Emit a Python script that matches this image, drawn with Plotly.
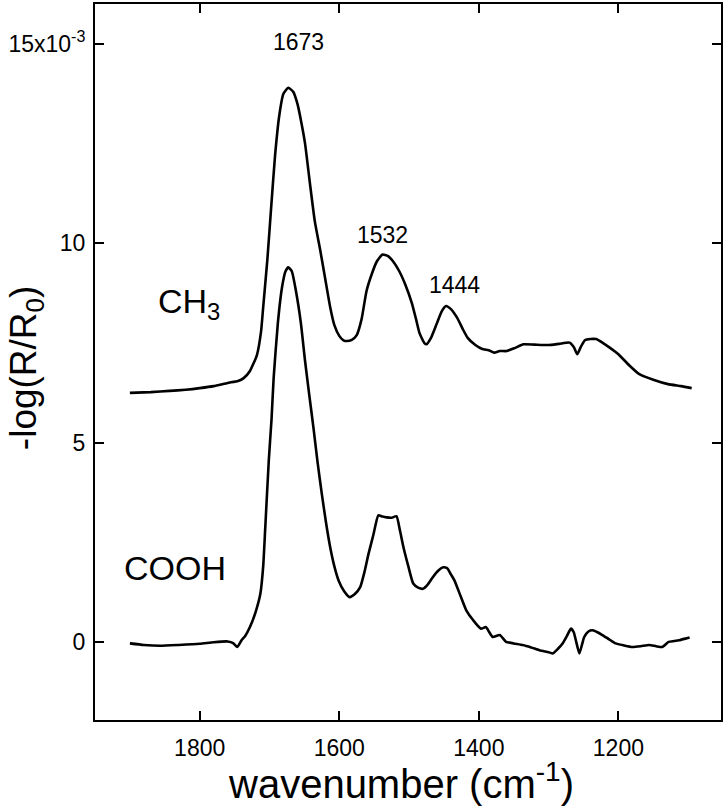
import plotly.graph_objects as go

# ---- data (absorbance in units of 1e-3) ----
ch3_wn = [1900, 1870, 1843, 1820, 1800, 1780, 1760, 1745, 1737, 1728, 1718, 1712, 1709, 1703,
          1698, 1692, 1686, 1680, 1673, 1666, 1660, 1654, 1649, 1642, 1635, 1627, 1620, 1613,
          1607, 1600, 1594, 1589, 1582, 1575, 1568, 1561, 1553, 1546, 1538, 1530, 1523, 1514, 1505,
          1496, 1490, 1485, 1478, 1475, 1468, 1460, 1453, 1447, 1440, 1431, 1423, 1416, 1405,
          1395, 1386, 1378, 1370, 1360, 1348, 1336, 1320, 1300, 1285, 1270, 1264, 1259, 1254,
          1248, 1240, 1232, 1222, 1212, 1200, 1185, 1170, 1150, 1129, 1110, 1095]
ch3_val = [6.25, 6.27, 6.30, 6.33, 6.37, 6.42, 6.50, 6.55, 6.62, 6.80, 7.20, 7.80, 8.40, 9.60,
           10.8, 12.2, 13.2, 13.75, 13.9, 13.8, 13.5, 13.0, 12.5, 11.5, 10.55, 9.8, 9.1, 8.4,
           7.95, 7.68, 7.57, 7.55, 7.58, 7.70, 8.10, 8.80, 9.25, 9.55, 9.72, 9.68, 9.55, 9.30, 8.95,
           8.50, 8.10, 7.75, 7.50, 7.47, 7.65, 8.00, 8.30, 8.43, 8.35, 8.13, 7.85, 7.63, 7.45,
           7.35, 7.32, 7.26, 7.30, 7.30, 7.38, 7.47, 7.46, 7.45, 7.48, 7.51, 7.40, 7.22, 7.40,
           7.57, 7.60, 7.60, 7.50, 7.38, 7.22, 6.95, 6.72, 6.58, 6.47, 6.42, 6.37]

cooh_wn = [1900, 1880, 1857, 1830, 1800, 1780, 1760, 1752, 1746, 1740, 1735, 1728, 1720, 1713,
           1709, 1706, 1701, 1697, 1694, 1688, 1682, 1677, 1673, 1668, 1662, 1655, 1649, 1643,
           1637, 1631, 1625, 1619, 1613, 1607, 1601, 1593, 1585, 1578, 1570, 1564, 1558, 1551,
           1544, 1538, 1532, 1525, 1518, 1513, 1508, 1501, 1494, 1487, 1480, 1473, 1466, 1458,
           1451, 1445, 1440, 1435, 1426, 1418, 1408, 1397, 1390, 1385, 1380, 1370, 1361, 1350,
           1337, 1325, 1313, 1300, 1294, 1287, 1280, 1274, 1268, 1264, 1261, 1256, 1252, 1249,
           1243, 1237, 1230, 1223, 1214, 1204, 1192, 1180, 1168, 1156, 1146, 1137, 1128, 1120,
           1113, 1104, 1098]
cooh_val = [-0.03, -0.07, -0.09, -0.07, -0.04, 0.00, 0.02, -0.02, -0.12, 0.05, 0.15, 0.38, 0.75, 1.22,
            1.90, 2.88, 4.55, 5.60, 6.63, 8.00, 8.90, 9.30, 9.40, 9.30, 8.80, 8.00, 7.05, 6.20,
            5.38, 4.50, 3.72, 3.00, 2.38, 1.90, 1.55, 1.28, 1.13, 1.20, 1.38, 1.75, 2.22, 2.70,
            3.18, 3.15, 3.13, 3.12, 3.16, 2.80, 2.38, 1.90, 1.47, 1.37, 1.34, 1.45, 1.63, 1.80,
            1.88, 1.85, 1.70, 1.55, 1.15, 0.80, 0.55, 0.34, 0.38, 0.25, 0.13, 0.18, 0.01, -0.03,
            -0.07, -0.13, -0.20, -0.25, -0.28, -0.17, -0.03, 0.15, 0.34, 0.25, 0.05, -0.28, -0.05, 0.13,
            0.27, 0.30, 0.25, 0.18, 0.08, -0.03, -0.08, -0.12, -0.10, -0.07, -0.10, -0.12, 0.01, 0.03,
            0.05, 0.09, 0.12]

x_ticks = [1800, 1600, 1400, 1200]
y_ticks = [0, 5, 10, 15]
y_ticktext = ["0", "5", "10", "15x10<sup>-3</sup>"]

peak_labels = ["1673", "1532", "1444"]
peak_label_x = [1658, 1538, 1435]
peak_label_y = [15.05, 10.22, 8.95]

series_labels = ["CH<sub>3</sub>", "COOH"]
series_label_x = [1815, 1835]
series_label_y = [8.5, 1.87]

FONT = "Liberation Sans, Arial, Helvetica, sans-serif"

fig = go.Figure()
fig.add_trace(go.Scatter(x=ch3_wn, y=ch3_val, mode="lines", name="CH3",
                         line=dict(color="black", width=2.6, shape="spline", smoothing=0.5),
                         showlegend=False))
fig.add_trace(go.Scatter(x=cooh_wn, y=cooh_val, mode="lines", name="COOH",
                         line=dict(color="black", width=2.6, shape="spline", smoothing=0.5),
                         showlegend=False))

annotations = []
for t, x, y in zip(peak_labels, peak_label_x, peak_label_y):
    annotations.append(dict(text=t, x=x, y=y, xref="x", yref="y", showarrow=False,
                            font=dict(size=23, color="black", family=FONT)))
for t, x, y in zip(series_labels, series_label_x, series_label_y):
    annotations.append(dict(text=t, x=x, y=y, xref="x", yref="y", showarrow=False,
                            font=dict(size=34, color="black", family=FONT)))
# axis titles
annotations.append(dict(text="wavenumber (cm<sup>-1</sup>)", x=0.489, y=-0.085,
                        xref="paper", yref="paper", showarrow=False,
                        xanchor="center", yanchor="middle",
                        font=dict(size=40, color="black", family=FONT)))
annotations.append(dict(text="-log(R/R<sub>0</sub>)", x=-0.11, y=0.4916,
                        xref="paper", yref="paper", showarrow=False, textangle=-90,
                        xanchor="center", yanchor="middle",
                        font=dict(size=37, color="black", family=FONT)))

fig.update_layout(
    width=725, height=810, autosize=False,
    margin=dict(l=95, r=3, t=2, b=90, pad=0),
    paper_bgcolor="white", plot_bgcolor="white",
    font=dict(family=FONT, color="black", size=23),
    annotations=annotations,
)
fig.update_xaxes(range=[1950, 1053], tickvals=x_ticks, ticks="inside", ticklen=9, tickwidth=2,
                 tickcolor="black", showline=True, linewidth=2, linecolor="black", mirror="ticks",
                 showgrid=False, zeroline=False, tickfont=dict(size=23, family=FONT),
                 ticklabelstandoff=6)
fig.update_yaxes(range=[-1.95, 16.0], tickvals=y_ticks, ticktext=y_ticktext, ticks="inside",
                 ticklen=9, tickwidth=2, tickcolor="black", showline=True, linewidth=2,
                 linecolor="black", mirror="ticks", showgrid=False, zeroline=False,
                 tickfont=dict(size=23, family=FONT), ticklabelstandoff=3)

fig.write_html("out.html",
               config={"displayModeBar": False},
               post_script="document.body.style.margin='0px';"
                           "document.documentElement.style.overflow='hidden';")
